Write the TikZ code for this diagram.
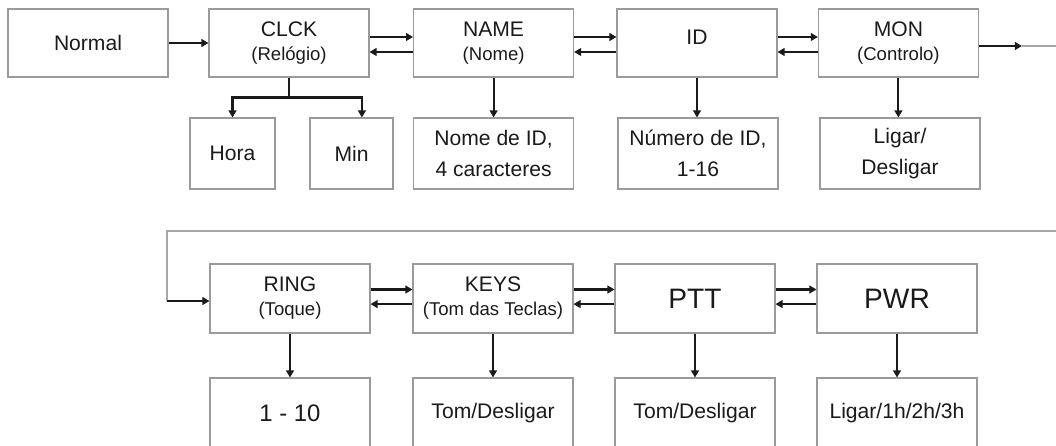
\documentclass[tikz,border=0pt]{standalone}
\usepackage{fontspec}
\setmainfont{Liberation Sans}
\usetikzlibrary{arrows.meta,calc}

\definecolor{boxgray}{HTML}{9A9A9A}
\definecolor{loopgray}{HTML}{A8A8A8}
\definecolor{ink}{HTML}{1A1A1A}
\newcommand{\subtxt}[1]{{\fontsize{13.2}{15}\selectfont #1}}

\begin{document}
\begin{tikzpicture}[
    font=\fontsize{15}{22}\selectfont,
    >={Triangle[length=5pt,width=5.5pt]},
    menu/.style={rectangle, draw=boxgray, line width=0.75pt, minimum width=4cm, minimum height=1.7cm, inner sep=0pt, align=center, text=ink},
    opt/.style={menu, minimum height=1.775cm},
    val/.style={menu, minimum height=1.75cm},
    big/.style={font=\fontsize{20}{24}\selectfont},
    link/.style={->, draw=ink, line width=1.5pt},
    wire/.style={draw=loopgray, line width=1.1pt}
]
\useasboundingbox (0, 0) rectangle (26.4, -11.15);

% Top row: menu items (y = -1.075)
\node[menu] (normal) at (2.2, -1.075) {Normal};
\node[menu] (clck) at (7.225, -1.075) {CLCK\\[-5pt]\subtxt{(Relógio)}};
\node[menu] (name) at (12.34, -1.075) {NAME\\[-5pt]\subtxt{(Nome)}};
\node[menu] (id) at (17.425, -1.075) {\raisebox{0.3cm}{ID}};
\node[menu] (mon) at (22.46, -1.075) {MON\\[-5pt]\subtxt{(Controlo)}};

% Top row: settings
\node[opt, minimum width=2.125cm] (hora) at (5.8125, -3.8375) {Hora};
\node[opt, minimum width=2.075cm] (min) at (8.7875, -3.8375) {Min};
\node[opt] (nome) at (12.34, -3.8375) {Nome de ID,\\4 caracteres};
\node[opt] (numero) at (17.45, -3.8375) {Número de ID,\\1-16};
\node[opt] (ligar) at (22.5, -3.8375) {Ligar/\\Desligar};

% Bottom row: menu items (y = -7.4625)
\node[menu, minimum height=1.725cm] (ring) at (7.25, -7.4625) {RING\\[-5pt]\subtxt{(Toque)}};
\node[menu, minimum height=1.725cm] (keys) at (12.325, -7.4625) {KEYS\\[-5pt]\subtxt{(Tom das Teclas)}};
\node[menu, minimum height=1.725cm, big] (ptt) at (17.375, -7.4625) {PTT};
\node[menu, minimum height=1.725cm, big] (pwr) at (22.425, -7.4625) {PWR};

% Bottom row: settings
\node[val, font=\fontsize{17}{20}\selectfont] (ringval) at (7.25, -10.325) {1 - 10};
\node[val] (keysval) at (12.325, -10.325) {Tom/Desligar};
\node[val] (pttval) at (17.375, -10.325) {Tom/Desligar};
\node[val] (pwrval) at (22.425, -10.325) {Ligar/1h/2h/3h};

% Connections: top row
\draw[link] (normal) -- (clck);
\draw[link] ([yshift=0.15cm]clck.east) -- ([yshift=0.15cm]name.west);
\draw[link] ([yshift=-0.225cm]name.west) -- ([yshift=-0.225cm]clck.east);
\draw[link] ([yshift=0.15cm]name.east) -- ([yshift=0.15cm]id.west);
\draw[link] ([yshift=-0.225cm]id.west) -- ([yshift=-0.225cm]name.east);
\draw[link] ([yshift=0.15cm]id.east) -- ([yshift=0.15cm]mon.west);
\draw[link] ([yshift=-0.225cm]mon.west) -- ([yshift=-0.225cm]id.east);

% Clock splits to hour and minute
\coordinate (cbus) at ($(clck.south)+(0, -0.5)$);
\draw[ink, line width=1.5pt] (clck.south) -- (cbus);
\draw[link] (cbus) -| (hora.north);
\draw[link] (cbus) -| ([xshift=0.26cm]min.north);

\draw[link] (name) -- (nome);
\draw[link] (id.south) -- (id.south |- numero.north);
\draw[link] (mon.south) -- (mon.south |- ligar.north);

% Wrap around to the second row
\coordinate (monout) at (25.55, -1.15);
\coordinate (rturn) at (26.7, -1.15);
\coordinate (rdown) at (26.7, -5.775);
\coordinate (lturn) at (4.175, -5.775);
\coordinate (ringin) at (4.175, -7.525);
\draw[link] (mon.east |- monout) -- (monout);
\draw[wire] (monout) -- (rturn) -- (rdown) -- (lturn) -- (ringin);
\draw[link] (ringin) -- (ring.west |- ringin);

% Connections: bottom row
\draw[link] ([yshift=0.225cm]ring.east) -- ([yshift=0.225cm]keys.west);
\draw[link] ([yshift=-0.14cm]keys.west) -- ([yshift=-0.14cm]ring.east);
\draw[link] ([yshift=0.225cm]keys.east) -- ([yshift=0.225cm]ptt.west);
\draw[link] ([yshift=-0.14cm]ptt.west) -- ([yshift=-0.14cm]keys.east);
\draw[link] ([yshift=0.225cm]ptt.east) -- ([yshift=0.225cm]pwr.west);
\draw[link] ([yshift=-0.14cm]pwr.west) -- ([yshift=-0.14cm]ptt.east);

\draw[link] (ring) -- (ringval);
\draw[link] (keys) -- (keysval);
\draw[link] (ptt) -- (pttval);
\draw[link] (pwr) -- (pwrval);

\end{tikzpicture}
\end{document}
